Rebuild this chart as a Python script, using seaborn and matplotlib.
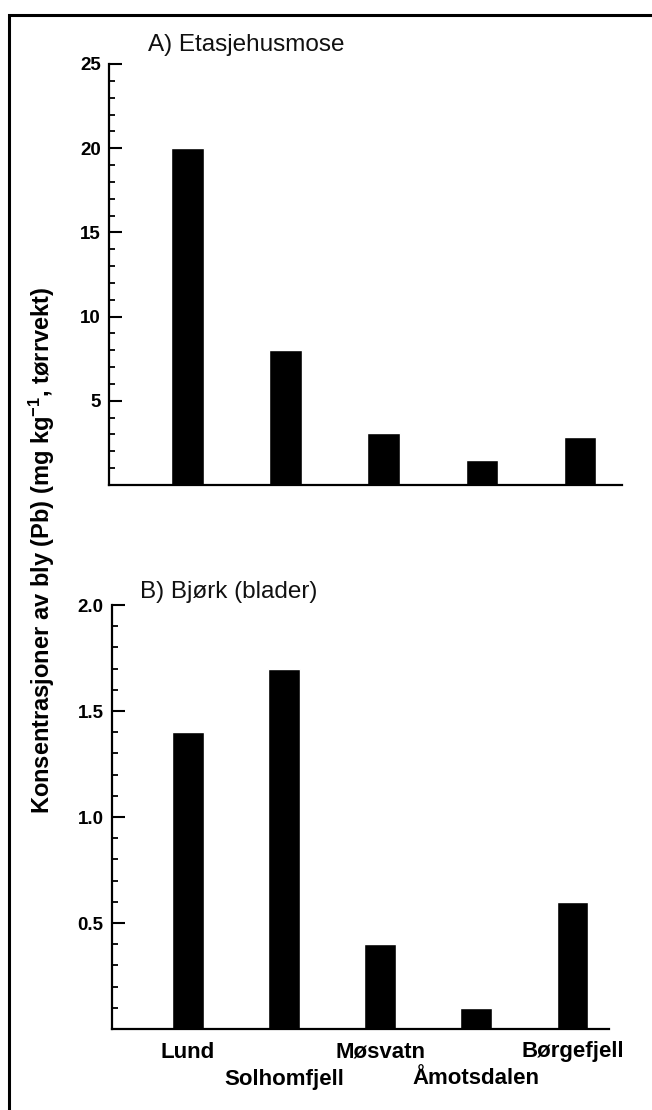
import matplotlib
matplotlib.use("Agg")
import matplotlib.pyplot as plt
import matplotlib.transforms as mtransforms
import seaborn as sns
import pandas as pd
from matplotlib.ticker import MultipleLocator, FixedLocator, FixedFormatter
from matplotlib.patches import Rectangle

# ---- data ----
sites = ["Lund", "Solhomfjell", "Møsvatn", "Åmotsdalen", "Børgefjell"]
moss_pb = [20.0, 8.0, 3.1, 1.5, 2.85]      # A) Etasjehusmose
birch_pb = [1.4, 1.7, 0.4, 0.1, 0.6]       # B) Bjørk (blader)
moss_ticks = [5, 10, 15, 20, 25]
moss_ticklabels = ["5", "10", "15", "20", "25"]
birch_ticks = [0.5, 1.0, 1.5, 2.0]
birch_ticklabels = ["0.5", "1.0", "1.5", "2.0"]
title_a = "A) Etasjehusmose"
title_b = "B) Bjørk (blader)"
ylabel = "Konsentrasjoner av bly (Pb) (mg kg$^{-1}$, tørrvekt)"

sns.set_theme(style="white")
plt.rcParams["font.family"] = ["Liberation Sans", "DejaVu Sans"]
plt.rcParams["mathtext.fontset"] = "custom"
plt.rcParams["mathtext.rm"] = "Liberation Sans:bold"
plt.rcParams["mathtext.it"] = "Liberation Sans:bold"
plt.rcParams["mathtext.bf"] = "Liberation Sans:bold"
for k in ("text.color", "axes.labelcolor", "xtick.color", "ytick.color"):
    plt.rcParams[k] = "black"

W, H = 652, 1110
fig = plt.figure(figsize=(W / 100, H / 100), dpi=100)
fig.patch.set_facecolor("white")

def px_axes(left, right, top, bottom):
    return [left / W, 1 - bottom / H, (right - left) / W, (bottom - top) / H]

ax1 = fig.add_axes(px_axes(109, 622, 64, 485))
ax2 = fig.add_axes(px_axes(112, 609, 605, 1029))

df1 = pd.DataFrame({"site": sites, "pb": moss_pb})
df2 = pd.DataFrame({"site": sites, "pb": birch_pb})

sns.barplot(data=df1, x="site", y="pb", color="black", width=0.33,
            saturation=1, ax=ax1)
sns.barplot(data=df2, x="site", y="pb", color="black", width=0.33,
            saturation=1, ax=ax2)

for ax in (ax1, ax2):
    ax.set_facecolor("white")
    for s in ("top", "right"):
        ax.spines[s].set_visible(False)
    for s in ("left", "bottom"):
        ax.spines[s].set_visible(True)
        ax.spines[s].set_color("black")
        ax.spines[s].set_linewidth(1.6)
    ax.set_xlabel("")
    ax.set_ylabel("")
    ax.tick_params(axis="y", which="major", direction="in", length=9.5,
                   width=1.5, color="black", labelcolor="black",
                   labelsize=13.5, pad=6, left=True)
    ax.tick_params(axis="y", which="minor", direction="in", length=4.5,
                   width=1.3, color="black", left=True)
    ax.tick_params(axis="x", length=0, labelcolor="black")

# Panel A
ax1.set_xlim(-0.8, 4.43)
ax1.set_ylim(0, 25)
ax1.yaxis.set_major_locator(FixedLocator(moss_ticks))
ax1.yaxis.set_major_formatter(FixedFormatter(moss_ticklabels))
ax1.yaxis.set_minor_locator(MultipleLocator(1))
ax1.set_xticks(range(len(sites)))
ax1.set_xticklabels([])
for lab in ax1.get_yticklabels():
    lab.set_fontweight("bold")

# Panel B
ax2.set_xlim(-0.79, 4.38)
ax2.set_ylim(0, 2.0)
ax2.yaxis.set_major_locator(FixedLocator(birch_ticks))
ax2.yaxis.set_major_formatter(FixedFormatter(birch_ticklabels))
ax2.yaxis.set_minor_locator(MultipleLocator(0.1))
ax2.set_xticks(range(len(sites)))
ax2.set_xticklabels(sites, fontsize=16, fontweight="bold")
ax2.tick_params(axis="x", pad=9)
shift = mtransforms.ScaledTranslation(0, -27 / 100, fig.dpi_scale_trans)
for i, lab in enumerate(ax2.get_xticklabels()):
    if i % 2 == 1:
        lab.set_transform(lab.get_transform() + shift)
for lab in ax2.get_yticklabels():
    lab.set_fontweight("bold")

# Titles
fig.text(148 / W, 1 - 45 / H, title_a, fontsize=17.5, ha="left", va="center",
         color="#111111")
fig.text(140 / W, 1 - 592 / H, title_b, fontsize=17.5, ha="left", va="center",
         color="#111111")

# Y label
fig.text(42 / W, 1 - 550 / H, ylabel, rotation=90, fontsize=17,
         fontweight="bold", ha="center", va="center")

# Border frame
fig.patches.append(Rectangle((9 / W, -0.1), 1.2, 1 - 15 / H + 0.1,
                             transform=fig.transFigure, fill=False,
                             edgecolor="black", linewidth=2.2))

fig.savefig("out.png", dpi=100, facecolor="white")
